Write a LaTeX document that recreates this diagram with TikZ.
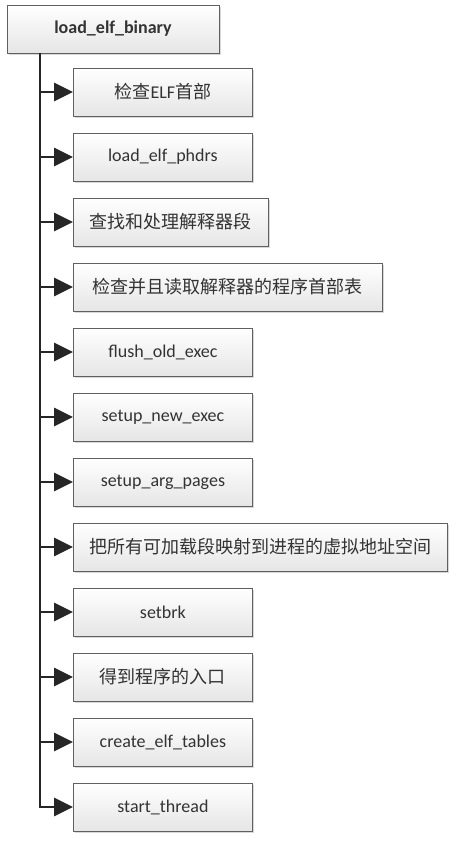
\documentclass[tikz,border=0pt]{standalone}
\usepackage{fontspec}
\setmainfont{Carlito}
\newfontfamily\cjk[Scale=1.0]{Noto Sans CJK SC}
\usetikzlibrary{arrows.meta,shadows}

\begin{document}
\begin{tikzpicture}[x=1pt,y=-1pt,
  box/.style={draw=gray!75!black, line width=0.8pt, top color=white, bottom color=gray!20,
    drop shadow={shadow xshift=2pt, shadow yshift=-2pt, fill=gray!60, opacity=.5},
    minimum height=48pt, minimum width=#1, anchor=west, inner sep=0pt,
    font=\fontsize{18}{21}\selectfont, text=black!80},
  box/.default=179pt,
  link/.style={line width=2.8pt, draw=black!85, -{Triangle[length=19pt,width=18pt]}}]
\useasboundingbox (0,0) rectangle (455,845);
% root
\node[box=212pt, anchor=center, font=\fontsize{18}{21}\bfseries] (root) at (113,29) {load\_elf\_binary};
% steps
\node[box] (s1) at (73,92) {{\cjk 检查}ELF{\cjk 首部}};
\node[box] (s2) at (73,157) {load\_elf\_phdrs};
\node[box=195pt] (s3) at (73,222) {\cjk 查找和处理解释器段};
\node[box=309pt] (s4) at (73,287) {\cjk 检查并且读取解释器的程序首部表};
\node[box] (s5) at (73,352) {flush\_old\_exec};
\node[box] (s6) at (73,417) {setup\_new\_exec};
\node[box] (s7) at (73,482) {setup\_arg\_pages};
\node[box=374pt] (s8) at (73,547) {\cjk 把所有可加载段映射到进程的虚拟地址空间};
\node[box] (s9) at (73,612) {setbrk};
\node[box] (s10) at (73,677) {\cjk 得到程序的入口};
\node[box] (s11) at (73,742) {create\_elf\_tables};
\node[box] (s12) at (73,807) {start\_thread};
% trunk
\coordinate (t) at (40,53);
\draw[link] (t) |- (s12.west);
\foreach \n in {s1,s2,s3,s4,s5,s6,s7,s8,s9,s10,s11}
  \draw[link] (t |- \n.west) -- (\n.west);
\end{tikzpicture}
\end{document}
